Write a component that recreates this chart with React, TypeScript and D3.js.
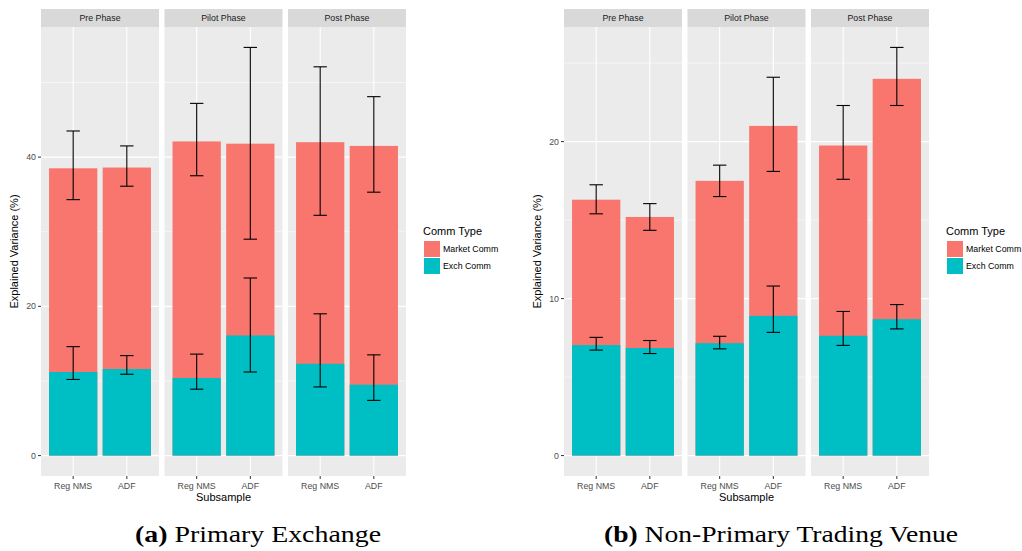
import React from "react";
import * as d3 from "d3";

const phases = ["Pre Phase", "Pilot Phase", "Post Phase"];
const subsamples = ["Reg NMS", "ADF"];
const commTypes = ["Market Comm", "Exch Comm"];
const commColors = ["#F8766D", "#00BFC4"];

// order of every series: Pre RegNMS, Pre ADF, Pilot RegNMS, Pilot ADF, Post RegNMS, Post ADF
// (a) Primary Exchange
const primaryTotal = [38.5, 38.6, 42.1, 41.8, 42.0, 41.5];
const primaryTotalLow = [34.3, 36.1, 37.5, 29.0, 32.2, 35.3];
const primaryTotalHigh = [43.5, 41.5, 47.2, 54.7, 52.1, 48.1];
const primaryExch = [11.2, 11.6, 10.4, 16.1, 12.3, 9.5];
const primaryExchLow = [10.2, 10.9, 8.9, 11.2, 9.2, 7.4];
const primaryExchHigh = [14.6, 13.4, 13.6, 23.8, 19.0, 13.5];
const primaryTicks = [0, 20, 40];
const primaryMinor = [10, 30, 50];

// (b) Non-Primary Trading Venue
const venueTotal = [16.3, 15.2, 17.5, 21.0, 19.75, 24.0];
const venueTotalLow = [15.4, 14.35, 16.5, 18.1, 17.6, 22.3];
const venueTotalHigh = [17.25, 16.05, 18.5, 24.1, 22.3, 26.0];
const venueExch = [7.04, 6.85, 7.16, 8.9, 7.63, 8.69];
const venueExchLow = [6.72, 6.5, 6.8, 7.85, 7.02, 8.07];
const venueExchHigh = [7.53, 7.33, 7.6, 10.8, 9.18, 9.62];
const venueTicks = [0, 10, 20];
const venueMinor = [5, 15, 25];

const FONT = "'Liberation Sans', Arial, Helvetica, sans-serif";

type Series = {
  total: number[];
  totalLow: number[];
  totalHigh: number[];
  exch: number[];
  exchLow: number[];
  exchHigh: number[];
  ticks: number[];
  minor: number[];
};

function FacetChart({ left, right, legendX, titleX, s }: { left: number; right: number; legendX: number; titleX: number; s: Series }) {
  const top = 27;
  const bottom = 476;
  const stripTop = 9;

  const facet = d3.scaleBand<string>().domain(phases).range([left, right]).paddingInner(0.0445);
  const pw = facet.bandwidth();
  const x = d3.scaleBand<string>().domain(subsamples).range([0, pw]).paddingInner(0.1).paddingOuter(0.15);

  const maxV = d3.max(s.totalHigh) as number;
  const pad = maxV * 0.05;
  const y = d3.scaleLinear().domain([-pad, maxV + pad]).range([bottom, top]);

  const errW = x.step() * 0.25;

  return (
    <g>
      {phases.map((ph, pi) => {
        const px = facet(ph) as number;
        return (
          <g key={ph} transform={`translate(${px},0)`}>
            <rect x={0} y={stripTop} width={pw} height={top - stripTop} fill="#d9d9d9" />
            <text x={pw / 2} y={(stripTop + top) / 2} dy="0.35em" textAnchor="middle" fontSize={8.8} fill="#1a1a1a" fontFamily={FONT}>{ph}</text>
            <rect x={0} y={top} width={pw} height={bottom - top} fill="#ebebeb" />
            {s.minor.map((t) => (
              <line key={"m" + t} x1={0} x2={pw} y1={y(t)} y2={y(t)} stroke="#fff" strokeWidth={0.55} />
            ))}
            {s.ticks.map((t) => (
              <line key={"t" + t} x1={0} x2={pw} y1={y(t)} y2={y(t)} stroke="#fff" strokeWidth={1.1} />
            ))}
            {subsamples.map((sub) => {
              const cx = (x(sub) as number) + x.bandwidth() / 2;
              return <line key={"v" + sub} x1={cx} x2={cx} y1={top} y2={bottom} stroke="#fff" strokeWidth={1.1} />;
            })}
            {subsamples.map((sub, si) => {
              const i = pi * 2 + si;
              const bx = x(sub) as number;
              const bw = x.bandwidth();
              const cx = bx + bw / 2;
              const errs = [
                [s.totalLow[i], s.totalHigh[i]],
                [s.exchLow[i], s.exchHigh[i]],
              ];
              return (
                <g key={sub}>
                  <rect x={bx} y={y(s.total[i])} width={bw} height={y(0) - y(s.total[i])} fill={commColors[0]} />
                  <rect x={bx} y={y(s.exch[i])} width={bw} height={y(0) - y(s.exch[i])} fill={commColors[1]} />
                  {errs.map(([lo, hi], k) => (
                    <g key={k} stroke="#000" strokeWidth={1.1}>
                      <line x1={cx} x2={cx} y1={y(lo)} y2={y(hi)} />
                      <line x1={cx - errW / 2} x2={cx + errW / 2} y1={y(lo)} y2={y(lo)} />
                      <line x1={cx - errW / 2} x2={cx + errW / 2} y1={y(hi)} y2={y(hi)} />
                    </g>
                  ))}
                  <line x1={cx} x2={cx} y1={bottom} y2={bottom + 3} stroke="#333" strokeWidth={1} />
                  <text x={cx} y={bottom + 10} dy="0.35em" textAnchor="middle" fontSize={8.8} fill="#4d4d4d" fontFamily={FONT}>{sub}</text>
                </g>
              );
            })}
          </g>
        );
      })}
      {s.ticks.map((t) => (
        <g key={t}>
          <line x1={left - 3} x2={left} y1={y(t)} y2={y(t)} stroke="#333" strokeWidth={1} />
          <text x={left - 5} y={y(t)} dy="0.35em" textAnchor="end" fontSize={8.8} fill="#4d4d4d" fontFamily={FONT}>{t}</text>
        </g>
      ))}
      <text x={(left + right) / 2} y={497} dy="0.35em" textAnchor="middle" fontSize={11} fill="#000" fontFamily={FONT}>Subsample</text>
      <text transform={`translate(${titleX},${(top + bottom) / 2}) rotate(-90)`} dy="0.35em" textAnchor="middle" fontSize={11} fill="#000" fontFamily={FONT}>Explained Variance (%)</text>
      <g transform={`translate(${legendX},0)`} fontFamily={FONT}>
        <text x={-1} y={235} fontSize={11} fill="#000">Comm Type</text>
        {commTypes.map((c, k) => (
          <g key={c} transform={`translate(0,${241 + k * 17})`}>
            <rect x={0} y={0} width={16} height={16} fill={commColors[k]} />
            <text x={19} y={8} dy="0.35em" fontSize={8.8} fill="#000">{c}</text>
          </g>
        ))}
      </g>
    </g>
  );
}

export default function App() {
  const primary: Series = {
    total: primaryTotal, totalLow: primaryTotalLow, totalHigh: primaryTotalHigh,
    exch: primaryExch, exchLow: primaryExchLow, exchHigh: primaryExchHigh,
    ticks: primaryTicks, minor: primaryMinor,
  };
  const venue: Series = {
    total: venueTotal, totalLow: venueTotalLow, totalHigh: venueTotalHigh,
    exch: venueExch, exchLow: venueExchLow, exchHigh: venueExchHigh,
    ticks: venueTicks, minor: venueMinor,
  };
  const cap = "'Liberation Serif', 'Times New Roman', serif";
  return (
    <div style={{ position: "absolute", left: 0, top: 0 }}>
      <svg width={1022} height={551} style={{ display: "block", background: "#fff" }}>
        <FacetChart left={41} right={406} legendX={424} titleX={14} s={primary} />
        <FacetChart left={564} right={929} legendX={947} titleX={537} s={venue} />
        <text x={135} y={542} fontSize={24} fontFamily={cap} fill="#000" textLength={246} lengthAdjust="spacingAndGlyphs">
          <tspan fontWeight="bold">(a)</tspan> Primary Exchange
        </text>
        <text x={604} y={542} fontSize={24} fontFamily={cap} fill="#000" textLength={354} lengthAdjust="spacingAndGlyphs">
          <tspan fontWeight="bold">(b)</tspan> Non-Primary Trading Venue
        </text>
      </svg>
    </div>
  );
}
